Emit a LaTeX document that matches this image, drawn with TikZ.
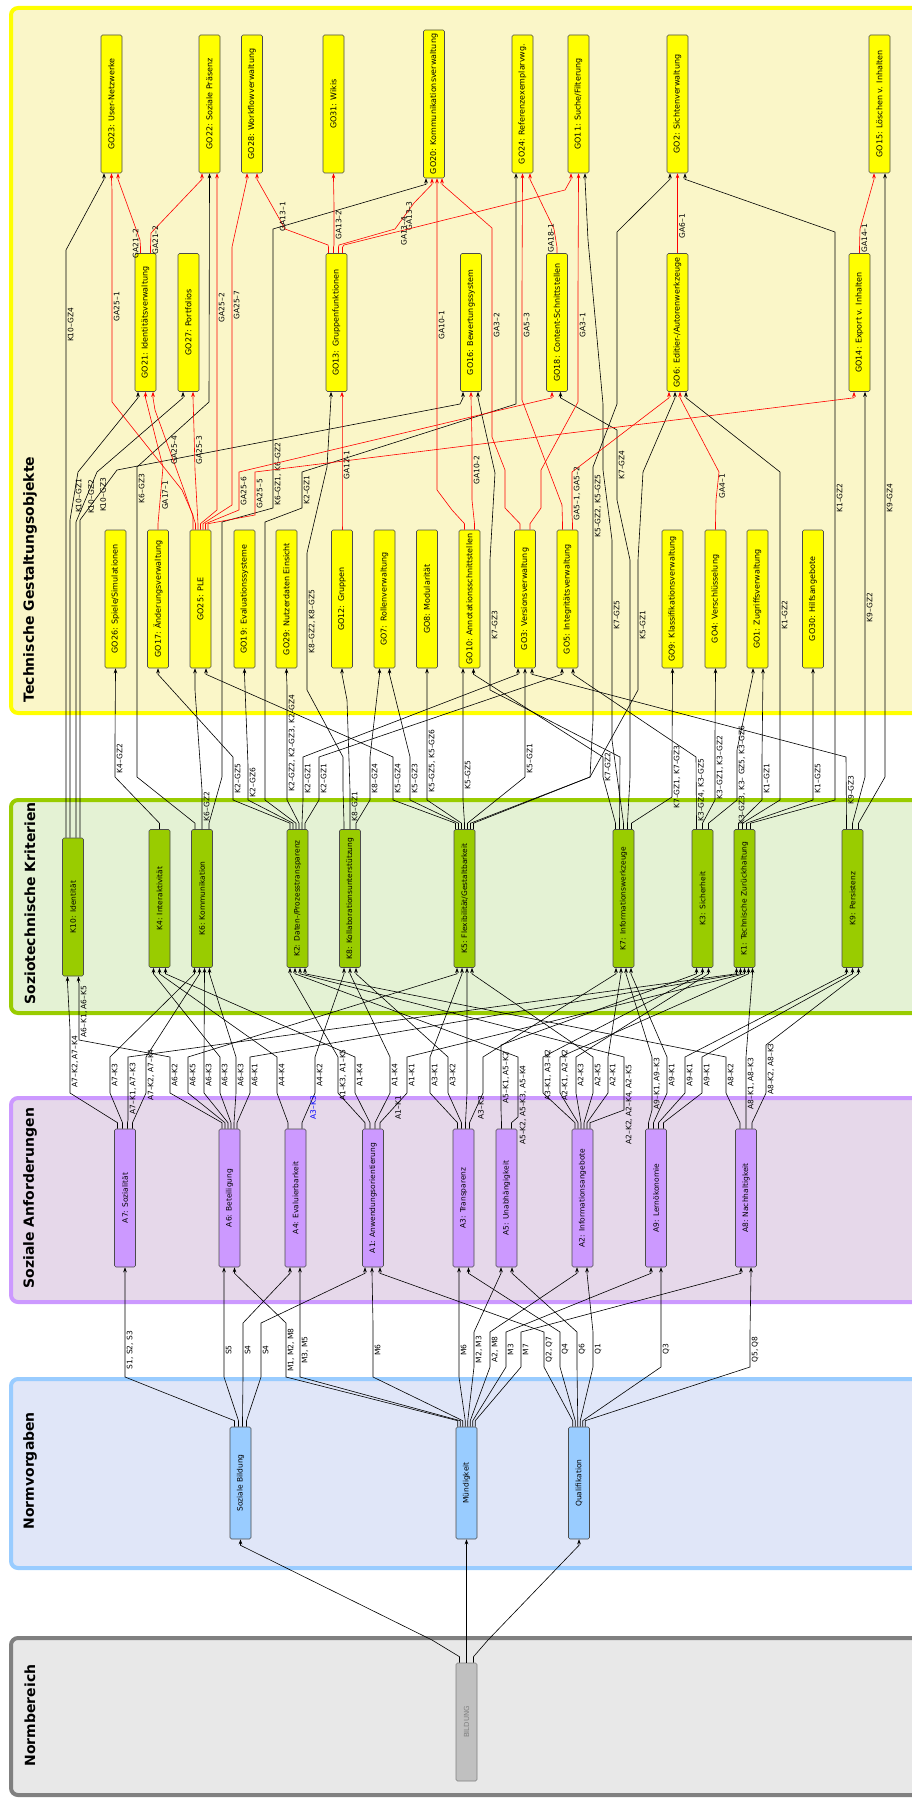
\documentclass[tikz,border=0pt]{standalone}
\usepackage{fontspec}
\setmainfont{DejaVu Sans}
\usetikzlibrary{arrows.meta}

\definecolor{ybandfill}{HTML}{FAF6C8}
\definecolor{ybandline}{HTML}{FFFF00}
\definecolor{gbandfill}{HTML}{E4F2D4}
\definecolor{gbandline}{HTML}{99CC00}
\definecolor{pbandfill}{HTML}{E6D8EA}
\definecolor{pbandline}{HTML}{CC99FF}
\definecolor{bbandfill}{HTML}{E0E6F8}
\definecolor{bbandline}{HTML}{99CCFF}
\definecolor{nbandfill}{HTML}{E8E8E8}
\definecolor{nbandline}{HTML}{808080}
\definecolor{gofill}{HTML}{FFFF00}
\definecolor{kfill}{HTML}{99CC00}
\definecolor{afill}{HTML}{CC99FF}
\definecolor{nfill}{HTML}{99CCFF}
\definecolor{bifill}{HTML}{C0C0C0}

\tikzset{
  box/.style={draw=black!70, line width=0.6pt, rounded corners=1.5pt, minimum width=21pt,
    minimum height=138pt, inner sep=1pt, font=\fontsize{8}{9}\selectfont},
  gobox/.style={box, fill=gofill},
  kbox/.style={box, fill=kfill, font=\fontsize{7.5}{9}\selectfont},
  abox/.style={box, fill=afill, font=\fontsize{7.5}{9}\selectfont},
  nbox/.style={box, fill=nfill, minimum height=112pt, font=\fontsize{7.5}{8}\selectfont},
  bibox/.style={box, fill=bifill, draw=black!50, minimum height=118pt, text=black!50,
    font=\fontsize{7}{8}\selectfont},
  conn/.style={draw=black, line width=0.6pt, -{Stealth[length=5pt,width=3.6pt]}},
  garel/.style={draw=red},
  lbl/.style={rotate=90, anchor=north, inner sep=1.5pt, font=\fontsize{7.5}{8}\selectfont},
  band/.style={line width=4pt, rounded corners=7pt},
  title/.style={rotate=90, anchor=west, font=\bfseries\fontsize{14}{16}\selectfont},
}

% vertical text inside the boxes
\newcommand\vtext[1]{\rotatebox{90}{#1}}
% relation: source, source port, route, target, target port
\newcommand\rel[6][]{%
  \draw[conn,#1] ([xshift=#3pt]#2.north) -- ++(0,-6) #4
    -- ([xshift=#6pt,yshift=-6pt]#5.south) -- ([xshift=#6pt]#5.south);}

\begin{document}
\begin{tikzpicture}[x=1pt,y=-1pt]
\useasboundingbox (0,0) rectangle (912,1798);
\clip (0,0) rectangle (912,1798);

% Bands
\filldraw[band, fill=ybandfill, draw=ybandline] (11,8) rectangle (960,713);
\filldraw[band, fill=gbandfill, draw=gbandline] (11,800) rectangle (960,1013);
\filldraw[band, fill=pbandfill, draw=pbandline] (11,1098) rectangle (960,1302);
\filldraw[band, fill=bbandfill, draw=bbandline] (11,1379) rectangle (960,1568);
\filldraw[band, fill=nbandfill, draw=nbandline] (11,1638) rectangle (960,1795);

\node[title] (tgo) at (30,706) {Technische Gestaltungsobjekte};
\node[title] (tk) at (30,1008) {Soziotechnische Kriterien};
\node[title] (ta) at (30,1292) {Soziale Anforderungen};
\node[title] (tn) at (30,1533) {Normvorgaben};
\node[title] (tb) at (30,1770) {Normbereich};

% Gestaltungsobjekte, upper row
\node[gobox] (GO23) at (111.5,104) {\vtext{GO23: User-Netzwerke}};
\node[gobox] (GO22) at (209.5,104) {\vtext{GO22: Soziale Präsenz}};
\node[gobox] (GO28) at (252,104) {\vtext{GO28: Workflowverwaltung}};
\node[gobox] (GO31) at (333.5,104) {\vtext{GO31: Wikis}};
\node[gobox, minimum height=148pt] (GO20) at (434,104) {\vtext{GO20: Kommunikationsverwaltung}};
\node[gobox] (GO24) at (522.5,104) {\vtext{GO24: Referenzexemplarvwg.}};
\node[gobox] (GO11) at (578.5,104) {\vtext{GO11: Suche/Filterung}};
\node[gobox] (GO2) at (677.5,104) {\vtext{GO2: Sichtenverwaltung}};
\node[gobox] (GO15) at (879.5,104) {\vtext{GO15: Löschen v. Inhalten}};
% middle row
\node[gobox] (GO21) at (145.5,322.5) {\vtext{GO21: Identitätsverwaltung}};
\node[gobox] (GO27) at (188.5,322.5) {\vtext{GO27: Portfolios}};
\node[gobox] (GO13) at (336.5,322.5) {\vtext{GO13: Gruppenfunktionen}};
\node[gobox] (GO16) at (471,322.5) {\vtext{GO16: Bewertungssystem}};
\node[gobox] (GO18) at (557,322.5) {\vtext{GO18: Content-Schnittstellen}};
\node[gobox] (GO6) at (677.5,322.5) {\vtext{GO6: Editier-/Autorenwerkzeuge}};
\node[gobox] (GO14) at (859.5,322.5) {\vtext{GO14: Export v. Inhalten}};
% lower row
\node[gobox] (GO26) at (115.5,599) {\vtext{GO26: Spiele/Simulationen}};
\node[gobox] (GO17) at (158,599) {\vtext{GO17: Änderungsverwaltung}};
\node[gobox] (GO25) at (200.5,599) {\vtext{GO25: PLE}};
\node[gobox] (GO19) at (244.5,599) {\vtext{GO19: Evaluationssysteme}};
\node[gobox] (GO29) at (286.5,599) {\vtext{GO29: Nutzerdaten Einsicht}};
\node[gobox] (GO12) at (342,599) {\vtext{GO12: Gruppen}};
\node[gobox] (GO7) at (384.5,599) {\vtext{GO7: Rollenverwaltung}};
\node[gobox] (GO8) at (427,599) {\vtext{GO8: Modularität}};
\node[gobox] (GO10) at (469.5,599) {\vtext{GO10: Annotationsschnittstellen}};
\node[gobox] (GO3) at (525,599) {\vtext{GO3: Versionsverwaltung}};
\node[gobox] (GO5) at (567.5,599) {\vtext{GO5: Integritätsverwaltung}};
\node[gobox] (GO9) at (672.5,599) {\vtext{GO9: Klassifikationsverwaltung}};
\node[gobox] (GO4) at (715.5,599) {\vtext{GO4: Verschlüsselung}};
\node[gobox] (GO1) at (757.5,599) {\vtext{GO1: Zugriffsverwaltung}};
\node[gobox] (GO30) at (813,599) {\vtext{GO30: Hilfsangebote}};

% Kriterien
\node[kbox] (K10) at (73,907) {\vtext{K10: Identität}};
\node[kbox] (K4) at (159.5,898.5) {\vtext{K4: Interaktivität}};
\node[kbox] (K6) at (202,898.5) {\vtext{K6: Kommunikation}};
\node[kbox] (K2) at (297.5,898.5) {\vtext{K2: Daten-/Prozesstransparenz}};
\node[kbox] (K8) at (350,898.5) {\vtext{K8: Kollaborationsunterstützung}};
\node[kbox] (K5) at (464.5,898.5) {\vtext{K5: Flexibilität/Gestaltbarkeit}};
\node[kbox] (K7) at (623.5,898.5) {\vtext{K7: Informationswerkzeuge}};
\node[kbox] (K3) at (702.5,898.5) {\vtext{K3: Sicherheit}};
\node[kbox] (K1) at (744.5,898.5) {\vtext{K1: Technische Zurückhaltung}};
\node[kbox] (K9) at (852.5,898.5) {\vtext{K9: Persistenz}};

% Anforderungen
\node[abox] (A7) at (125,1198) {\vtext{A7: Sozialität}};
\node[abox] (A6) at (229.5,1198) {\vtext{A6: Beteiligung}};
\node[abox] (A4) at (295.5,1198) {\vtext{A4: Evaluierbarkeit}};
\node[abox] (A1) at (373,1198) {\vtext{A1: Anwendungsorientierung}};
\node[abox] (A3) at (463.5,1198) {\vtext{A3: Transparenz}};
\node[abox] (A5) at (506.5,1198) {\vtext{A5: Unabhängigkeit}};
\node[abox] (A2) at (582.5,1198) {\vtext{A2: Informationsangebote}};
\node[abox] (A9) at (656,1198) {\vtext{A9: Lernökonomie}};
\node[abox] (A8) at (746,1198) {\vtext{A8: Nachhaltigkeit}};

% Normvorgaben and Normbereich
\node[nbox] (sozb) at (240.5,1483) {\vtext{Soziale Bildung}};
\node[nbox] (muend) at (466.5,1483) {\vtext{Mündigkeit}};
\node[nbox] (quali) at (579,1483) {\vtext{Qualifikation}};
\node[bibox] (bildung) at (466.5,1722) {\vtext{BILDUNG}};

% Bildung -> Normvorgaben
\rel{bildung}{-7}{-- (432,1640)}{sozb}{0}
\rel{bildung}{0}{}{muend}{0}
\rel{bildung}{7}{-- (488,1640)}{quali}{0}

% Normvorgaben -> Anforderungen
\rel{sozb}{-6}{-- (125,1377) -- node[lbl]{S1, S2, S3} (125,1323)}{A7}{0}
\rel{sozb}{-2}{-- (224,1377) -- node[lbl]{S5} (224,1323)}{A6}{-5.5}
\rel{sozb}{2}{-- (243,1377) -- node[lbl]{S4} (243,1323)}{A4}{-5.5}
\rel{sozb}{6}{-- (261,1377) -- node[lbl]{S4} (261,1323)}{A1}{-8}
\rel{muend}{-8.75}{-- (286,1377) -- node[lbl]{M1, M2, M8} (286,1323)}{A6}{5}
\rel{muend}{-6.25}{-- (300,1377) -- node[lbl]{M3, M5} (300,1323)}{A4}{4.5}
\rel{muend}{-3.75}{-- (373,1377) -- node[lbl]{M6} (373,1323)}{A1}{-1}
\rel{muend}{-1.25}{-- (459,1377) -- node[lbl]{M6} (459,1323)}{A3}{-4.5}
\rel{muend}{1.25}{-- (474,1367) -- node[lbl]{M2, M3} (474,1332)}{A5}{-5.5}
\rel{muend}{3.75}{-- (490,1367) -- node[lbl]{A2, M8} (490,1332)}{A2}{-5.5}
\rel{muend}{6.25}{-- (506,1367) -- node[lbl]{M3} (506,1332)}{A9}{-5}
\rel{muend}{8.75}{-- (521,1367) -- node[lbl]{M7} (521,1332)}{A8}{-5}
\rel{quali}{-6.25}{-- (544,1367) -- node[lbl]{Q2, Q7} (544,1332)}{A1}{7}
\rel{quali}{-3.75}{-- (560,1367) -- node[lbl]{Q4} (560,1332)}{A3}{5}
\rel{quali}{-1.25}{-- (577,1367) -- node[lbl]{Q6} (577,1332)}{A5}{5.5}
\rel{quali}{1.25}{-- (593,1367) -- node[lbl]{Q1} (593,1332)}{A2}{4.5}
\rel{quali}{3.75}{-- (661,1367) -- node[lbl]{Q3} (661,1332)}{A9}{5}
\rel{quali}{6.25}{-- (750,1367) -- node[lbl]{Q5, Q8} (750,1332)}{A8}{5}

% Anforderungen -> Kriterien
\rel{A7}{-7.5}{-- (70,1093) -- node[lbl]{A7–K2, A7–K4} (70,1030)}{K10}{-5.5}
\rel{A7}{-2.5}{-- (110,1093) -- node[lbl]{A7–K3} (110,1057)}{K6}{-7.5}
\rel{A7}{2.5}{-- (128,1120) -- node[lbl]{A7–K1, A7–K3} (128,1057)}{K1}{-8}
\rel{A7}{7.5}{-- (146,1093) -- node[lbl]{A7–K2, A7–K4} (146,1057)}{K6}{-2.5}
\rel{A6}{-7.5}{-- (170,1093) -- node[lbl]{A6–K2} (170,1057) -- (79,1040) -- node[lbl]{A6–K1, A6–K5} (79,983)}{K10}{5.5}
\rel{A6}{-4.5}{-- (188,1093) -- node[lbl]{A6–K5} (188,1057)}{K5}{-7.5}
\rel{A6}{-1.5}{-- (204,1093) -- node[lbl]{A6–K3} (204,1057)}{K6}{2.5}
\rel{A6}{1.5}{-- (220,1093) -- node[lbl]{A6–K3} (220,1057)}{K4}{-6}
\rel{A6}{4.5}{-- (236,1093) -- node[lbl]{A6–K3} (236,1057)}{K6}{7.5}
\rel{A6}{7.5}{-- (250,1093) -- node[lbl]{A6–K1} (250,1057)}{K1}{-4}
\rel{A4}{-7.5}{-- (277,1093) -- node[lbl]{A4–K4} (277,1057)}{K4}{0}
\rel{A4}{6.5}{-- node[lbl,text=blue]{A3–K3} (315,1093) -- node[lbl]{A4–K2} (315,1057)}{K8}{-6}
\rel{A1}{-8}{-- (338,1093) -- node[lbl]{A1–K3, A1–K5} (338,1057)}{K2}{-7.5}
\rel{A1}{-3}{-- (355,1093) -- node[lbl]{A1–K4} (355,1057)}{K4}{6}
\rel{A1}{2}{-- (390,1093) -- node[lbl]{A1–K4} (390,1057)}{K8}{0}
\rel{A1}{7}{-- node[lbl]{A1–K1} (407,1093) -- node[lbl]{A1–K1} (407,1057)}{K1}{0}
\rel{A3}{-6}{-- (430,1093) -- node[lbl]{A3–K1} (430,1057)}{K5}{-2.5}
\rel{A3}{-2}{-- (448,1093) -- node[lbl]{A3–K2} (448,1057)}{K8}{6}
\rel{A3}{2}{-- (467,1093) -- (467,1057)}{K5}{2.5}
\rel{A3}{6}{-- node[lbl]{A3–K2} (483,1093) -- (483,1057)}{K7}{-7.5}
\rel{A5}{-5}{-- (501,1110) -- node[lbl]{A5–K1, A5–K2} (501,1045)}{K3}{-6}
\rel{A5}{5}{-- (518,1117) -- node[lbl,pos=0.2]{A5–K2, A5–K3, A5–K4} (518,1057)}{K2}{-2.5}
\rel{A2}{-7.5}{-- (543,1093) -- node[lbl]{A3–K1, A3–K2} (543,1057)}{K3}{0}
\rel{A2}{-4.5}{-- (560,1093) -- node[lbl]{A2–K1, A2–K2} (560,1057)}{K1}{4}
\rel{A2}{-1.5}{-- (576,1093) -- node[lbl]{A2–K3} (576,1057)}{K3}{6}
\rel{A2}{1.5}{-- (593,1093) -- node[lbl]{A2–K5} (593,1057)}{K5}{7.5}
\rel{A2}{4.5}{-- (608,1093) -- node[lbl]{A2–K1} (608,1057)}{K7}{-2.5}
\rel{A2}{7.5}{-- (624,1110) -- node[lbl,pos=0.1]{A2–K2, A2–K4, A2–K5} (624,1057)}{K2}{2.5}
\rel{A9}{-7.5}{-- (652,1110) -- node[lbl]{A9–K1, A9–K3} (652,1057)}{K7}{2.5}
\rel{A9}{-2.5}{-- (667,1093) -- node[lbl]{A9–K1} (667,1057)}{K7}{7.5}
\rel{A9}{2.5}{-- (685,1093) -- node[lbl]{A9–K1} (685,1057)}{K9}{-6}
\rel{A9}{7.5}{-- (702,1093) -- node[lbl]{A9–K1} (702,1057)}{K9}{0}
\rel{A8}{-6}{-- (726,1093) -- node[lbl]{A8–K2} (726,1057)}{K2}{7.5}
\rel{A8}{0}{-- (746,1110) -- node[lbl]{A8–K1, A8–K3} (746,1057)}{K1}{8}
\rel{A8}{6}{-- (766,1093) -- node[lbl]{A8–K2, A8–K3} (766,1045)}{K9}{6}

% Kriterien -> Gestaltungsobjekte
\rel{K10}{-7}{-- (66,400) -- node[lbl]{K10–GZ4} (66,250)}{GO23}{-7.5}
\rel{K10}{-3}{-- (70,520) -- node[lbl]{K10–GZ1} (78,472)}{GO21}{-7.5}
\rel{K10}{3}{-- (76,522) -- node[lbl]{K10–GZ2} (97,472)}{GO27}{-5.5}
\rel{K10}{7}{-- (80,520) -- node[lbl]{K10–GZ3} (117,470) -- (460,404)}{GO16}{-8}
\rel{K4}{0}{-- (115,777) -- node[lbl]{K4–GZ2} (115,740)}{GO26}{0}
\rel{K6}{-7}{-- (137,777) -- (137,510) -- node[lbl]{K6–GZ3} (137,467) -- (209,402)}{GO22}{0}
\rel{K6}{0}{-- node[lbl]{K6–GZ2} (202,790) -- (195,690)}{GO25}{-5.5}
\rel{K6}{7}{-- (222,777) -- (222,522) -- (273,508) -- node[lbl]{K6–GZ1, K6–GZ2} (273,440) -- (273,229)}{GO20}{-8}
\rel{K2}{-7.5}{-- (233,800) -- node[lbl]{K2–GZ5} (233,757)}{GO17}{0}
\rel{K2}{-4.5}{-- (248,800) -- node[lbl]{K2–GZ6} (248,765)}{GO19}{0}
\rel{K2}{-1.5}{-- (265,800) -- (265,522) -- (302,508) -- node[lbl]{K2–GZ1} (302,472) -- (516,404) -- (516,200)}{GO24}{-6.5}
\rel{K2}{1.5}{-- (287,800) -- node[lbl]{K2–GZ2, K2–GZ3, K2–GZ4} (287,686)}{GO29}{0}
\rel{K2}{4.5}{-- (303,800) -- node[lbl]{K2–GZ1} (303,757)}{GO3}{-7}
\rel{K2}{7.5}{-- (319,800) -- node[lbl]{K2–GZ1} (319,757)}{GO5}{-5.5}
\rel{K8}{-6}{-- (343,790) -- (343,757) -- (307,690) -- node[lbl]{K8–GZ2, K8–GZ5} (307,553) -- (327,467)}{GO13}{-5.5}
\rel{K8}{0}{-- node[lbl]{K8–GZ1} (350,790) -- (347,700)}{GO12}{0}
\rel{K8}{6}{-- (370,800) -- node[lbl]{K8–GZ4} (370,757)}{GO7}{-5}
\rel{K5}{-9}{-- (393,800) -- node[lbl]{K5–GZ4} (393,757)}{GO25}{5.5}
\rel{K5}{-6}{-- (410,800) -- node[lbl]{K5–GZ3} (410,757)}{GO7}{5}
\rel{K5}{-3}{-- (427,800) -- node[lbl]{K5–GZ5, K5–GZ6} (427,722)}{GO8}{0}
\rel{K5}{0}{-- (463,800) -- node[lbl]{K5–GZ5} (463,750)}{GO10}{-6.5}
\rel{K5}{3}{-- (525,777) -- node[lbl]{K5–GZ1} (525,740)}{GO3}{0}
\rel{K5}{6}{-- (590,777) -- (593,720) -- (593,545) -- node[lbl]{K5–GZ2, K5–GZ5} (593,467) -- (617,404) -- (617,232)}{GO2}{-7.5}
\rel{K5}{9}{-- (590,777) -- (638,690) -- node[lbl]{K5–GZ1} (638,560) -- (643,472)}{GO6}{-2.5}
\rel{K7}{-8}{-- (603,777) -- node[lbl]{K7–GZ2} (603,757)}{GO10}{4}
\rel{K7}{-4}{-- (620,757) -- (490,690) -- node[lbl]{K7–GZ3} (490,560) -- (495,473)}{GO16}{7}
\rel{K7}{0}{-- (612,740) -- (612,690) -- node[lbl]{K7–GZ5} (612,540) -- (603,470) -- (603,404) -- (588,240)}{GO11}{6.5}
\rel{K7}{4}{-- (630,777) -- (630,560) -- (617,500) -- node[lbl]{K7–GZ4} (617,430)}{GO18}{3.5}
\rel{K7}{8}{-- (672,797) -- node[lbl]{K7–GZ1, K7–GZ3} (672,757)}{GO9}{0}
\rel{K3}{-6}{-- node[lbl]{K3–GZ4, K3–GZ5} (696,757)}{GO5}{5.5}
\rel{K3}{0}{-- (715,800) -- node[lbl]{K3–GZ1, K3–GZ2} (715,735)}{GO4}{0}
\rel{K3}{6}{-- (737,800) -- node[lbl]{K3–GZ3, K3– GZ5, K3–GZ6} (737,750)}{GO1}{-4.5}
\rel{K1}{-6}{-- (762,800) -- node[lbl]{K1–GZ1} (762,757)}{GO1}{5.5}
\rel{K1}{-2}{-- (780,800) -- (780,650) -- node[lbl]{K1–GZ2} (780,580) -- (780,472)}{GO6}{8.5}
\rel{K1}{2}{-- (813,800) -- node[lbl]{K1–GZ5} (813,757)}{GO30}{0}
\rel{K1}{6}{-- (835,800) -- (835,530) -- node[lbl]{K1–GZ2} (835,466) -- (835,232)}{GO2}{7.5}
\rel{K9}{-6}{-- node[lbl]{K9–GZ3} (846,757)}{GO3}{7}
\rel{K9}{0}{-- (865,777) -- (865,650) -- node[lbl]{K9–GZ2} (865,565) -- (865,404)}{GO14}{5.5}
\rel{K9}{6}{-- (885,777) -- (885,530) -- node[lbl]{K9–GZ4} (885,466) -- (885,190)}{GO15}{5.5}

% Gestaltungsabhaengigkeiten between objects
\rel[garel]{GO25}{-7.5}{-- (193,515) -- (182,490) -- (112,402) -- node[lbl,pos=0.45]{GA25–1} (112,190)}{GO23}{0}
\rel[garel]{GO25}{-5}{-- (184,490) -- node[lbl]{GA25–4} (155,410)}{GO21}{7.5}
\rel[garel]{GO25}{-2.5}{-- (195,470) -- node[lbl]{GA25–3} (194,430)}{GO27}{4.5}
\rel[garel]{GO25}{0}{-- (217,510) -- (217,330) -- node[lbl]{GA25–2} (217,285)}{GO22}{7.5}
\rel[garel]{GO25}{2.5}{-- (232,505) -- (232,330) -- node[lbl]{GA25–7} (232,280) -- (232,247)}{GO28}{-5}
\rel[garel]{GO25}{5}{-- (239,510) -- node[lbl]{GA25–6} (239,472)}{GO18}{-5}
\rel[garel]{GO25}{7.5}{-- (255,515) -- node[lbl]{GA25–5} (255,472)}{GO14}{-5.5}
\rel[garel]{GO21}{-5}{-- node[lbl,anchor=south]{GA21–2} (140,240)}{GO23}{6.5}
\rel[garel]{GO21}{5}{-- node[lbl]{GA21–2} (151,233)}{GO22}{-7.5}
\rel[garel]{GO17}{0}{-- node[lbl]{GA17–1} (163,467)}{GO21}{0}
\rel[garel]{GO12}{0}{-- (342,490) -- node[lbl]{GA12–1} (342,440)}{GO13}{5.5}
\rel[garel]{GO13}{-8}{-- (328,245) -- (285,229) -- node[lbl]{GA13–1} (271,204)}{GO28}{5}
\rel[garel]{GO13}{-3}{-- (334,245) -- node[lbl]{GA13–2} (334,205)}{GO31}{0}
\rel[garel]{GO13}{2}{-- (339,245) -- (395,229) -- node[lbl]{GA13–3} (414,203)}{GO20}{-2}
\rel[garel]{GO13}{6}{-- (344,245) -- node[lbl,pos=0.25]{GA13–4} (565,190)}{GO11}{-7.5}
\rel[garel]{GO10}{-5}{-- (452,510) -- (437,490) -- (437,360) -- node[lbl]{GA10–1} (437,290)}{GO20}{3}
\rel[garel]{GO10}{5}{-- (472,500) -- node[lbl]{GA10–2} (472,440)}{GO16}{0}
\rel[garel]{GO3}{-5}{-- (505,508) -- (505,470) -- (492,437) -- (492,360) -- node[lbl]{GA3–2} (492,290) -- (492,228)}{GO20}{8}
\rel[garel]{GO3}{5}{-- (541,508) -- (541,470) -- (578,402) -- (578,360) -- node[lbl]{GA3–1} (578,290)}{GO11}{0}
\rel[garel]{GO5}{-5}{-- (562,505) -- (522,400) -- (522,360) -- node[lbl]{GA5–3} (522,290)}{GO24}{0}
\rel[garel]{GO5}{5}{-- (572,515) -- node[lbl]{GA5–1, GA5–2} (572,472)}{GO6}{-8.5}
\rel[garel]{GO18}{0}{-- node[lbl,anchor=south]{GA18–1} (554,229)}{GO24}{7.5}
\rel[garel]{GO4}{0}{-- (716,500) -- node[lbl]{GA4–1} (719,472)}{GO6}{2.5}
\rel[garel]{GO6}{0}{-- node[lbl]{GA6–1} (677.5,205)}{GO2}{0}
\rel[garel]{GO14}{0}{-- node[lbl]{GA14–1} (860,229)}{GO15}{-5.5}
\end{tikzpicture}
\end{document}
